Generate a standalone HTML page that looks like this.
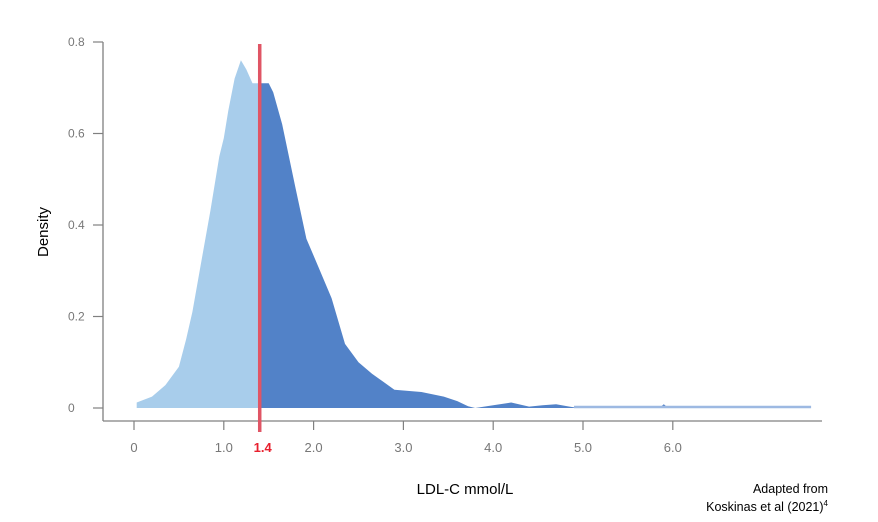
<!DOCTYPE html>
<html><head><meta charset="utf-8"><style>
html,body{margin:0;padding:0;background:#fff;}
svg{display:block;font-family:"Liberation Sans",sans-serif;}
</style></head><body>
<svg id="chart" width="878" height="522" viewBox="0 0 878 522">
<g id="plot"></g>
<text x="48" y="232" font-size="15" text-anchor="middle" transform="rotate(-90 48 232)" fill="#000">Density</text>
<text x="465" y="494" font-size="15" text-anchor="middle" fill="#000">LDL-C mmol/L</text>
<text x="828" y="493" font-size="12.5" text-anchor="end" fill="#000">Adapted from</text>
<text x="828" y="511" font-size="12.5" text-anchor="end" fill="#000">Koskinas et al (2021)<tspan font-size="8" dy="-5">4</tspan></text>
</svg>
<script>
const xs = [0.03,0.2,0.35,0.5,0.58,0.65,0.75,0.85,0.95,1.0,1.05,1.12,1.19,1.25,1.32,1.4,1.5,1.55,1.65,1.8,1.92,2.05,2.2,2.35,2.5,2.65,2.9,3.2,3.45,3.6,3.72,3.8,4.0,4.2,4.4,4.55,4.7,4.85,4.95,5.85,5.9,5.95,7.54];
const dens = [0.012,0.025,0.05,0.09,0.15,0.21,0.32,0.43,0.55,0.59,0.65,0.72,0.76,0.74,0.71,0.71,0.71,0.69,0.62,0.48,0.37,0.31,0.24,0.14,0.1,0.075,0.04,0.035,0.025,0.015,0.004,0.0,0.006,0.012,0.003,0.006,0.008,0.003,0.0,0.0,0.008,0.0,0.0];
const xTicks = [0,1,2,3,4,5,6];
const xTickLabels = ["0","1.0","2.0","3.0","4.0","5.0","6.0"];
const yTicks = [0,0.2,0.4,0.6,0.8];
const yTickLabels = ["0","0.2","0.4","0.6","0.8"];
const threshold = [1.4];

const X = v => 134 + 89.8*v;
const Y = v => 408 - 457.5*v;
const NS = "http://www.w3.org/2000/svg";
const g = document.getElementById('plot');
function mk(tag, attrs){const e=document.createElementNS(NS,tag);for(const k in attrs)e.setAttribute(k,attrs[k]);g.appendChild(e);return e;}

function areaPath(lo, hi){
  let pts=[];
  for(let i=0;i<xs.length;i++){ if(xs[i]>=lo && xs[i]<=hi) pts.push([xs[i],dens[i]]); }
  // interpolate boundaries
  function interp(t){for(let i=0;i<xs.length-1;i++){if(xs[i]<=t&&xs[i+1]>=t){const f=(t-xs[i])/(xs[i+1]-xs[i]);return dens[i]+f*(dens[i+1]-dens[i]);}}return 0;}
  if(lo>xs[0]) pts.unshift([lo,interp(lo)]);
  if(hi<xs[xs.length-1]) pts.push([hi,interp(hi)]);
  let d="M"+X(pts[0][0])+","+Y(0);
  pts.forEach(p=>d+=" L"+X(p[0]).toFixed(1)+","+Y(p[1]).toFixed(1));
  d+=" L"+X(pts[pts.length-1][0])+","+Y(0)+" Z";
  return d;
}
const t = threshold[0];
let a1 = mk('path',{d:areaPath(xs[0],t),fill:'#A8CDEB'});


let a2 = mk('path',{d:areaPath(t,xs[xs.length-1]),fill:'#5282C8'});


let tail = mk('line',{x1:X(4.9),x2:X(xs[xs.length-1]),y1:Y(0)-1,y2:Y(0)-1,stroke:'#9DB9E2','stroke-width':2.5});



// axes
let ya = mk('line',{x1:103,x2:103,y1:Y(0.8),y2:421,stroke:'#808080','stroke-width':1.3});


let xa = mk('line',{x1:103,x2:822,y1:421,y2:421,stroke:'#808080','stroke-width':1.3});


yTicks.forEach((v,i)=>{
  let tk = mk('line',{x1:93,x2:103,y1:Y(v),y2:Y(v),stroke:'#808080','stroke-width':1.2});
  
  
  let tx = mk('text',{x:68,y:Y(v)+4,'font-size':12,fill:'#777'});
  tx.textContent = yTickLabels[i];
  
  
});
xTicks.forEach((v,i)=>{
  let tk = mk('line',{x1:X(v),x2:X(v),y1:421,y2:430,stroke:'#808080','stroke-width':1.2});
  
  
  let tx = mk('text',{x:X(v),y:452,'font-size':13,fill:'#777','text-anchor':'middle'});
  tx.textContent = xTickLabels[i];
  
  
});
let rl = mk('line',{x1:X(t),x2:X(t),y1:44,y2:432,stroke:'#E05565','stroke-width':3.5});


let rt = mk('text',{x:X(t)+3,y:452,'font-size':13,fill:'#E8202E','font-weight':'bold','text-anchor':'middle'});
rt.textContent = "1.4";


</script>
</body></html>
